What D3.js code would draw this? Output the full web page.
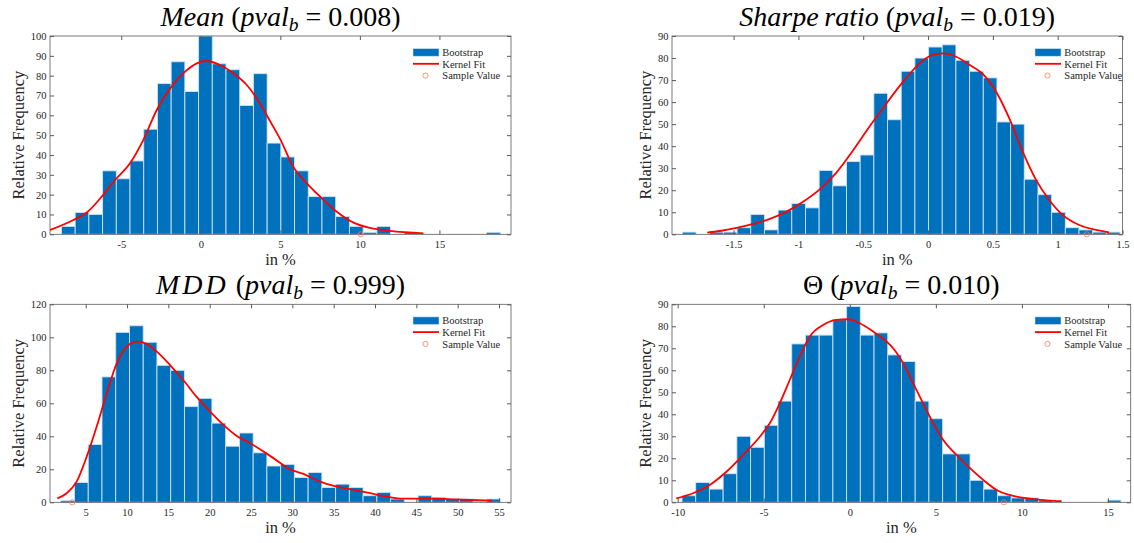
<!DOCTYPE html>
<html>
<head>
<meta charset="utf-8">
<script src="https://cdn.jsdelivr.net/npm/d3@7"></script>
<style>
  body { margin: 0; background: #fff; }
  svg text { font-family: "Liberation Serif", "DejaVu Serif", serif; }
  .tick line { stroke: #5a5a5a; }
</style>
</head>
<body>
<svg width="1134" height="543"></svg>
<script>
const svg = d3.select('svg');
const serif = '"Liberation Serif", "DejaVu Serif", serif';

// bootstrap histograms (first bin edge, bin width, counts per bin)
const meanStart = -8.76, meanWidth = 0.862;
const meanCounts = [4, 11, 10, 32, 28, 37, 53, 76, 87, 72, 100, 86, 83, 65, 81, 46,
  39, 32, 19, 19, 9, 4, 1, 4, 0, 1, 0, 0, 0, 0, 0, 1];

const sharpeStart = -1.895, sharpeWidth = 0.1055;
const sharpeCounts = [1, 0, 1, 1, 3, 9, 2, 11, 14, 12, 29, 22, 33, 36, 64, 52,
  74, 80, 85, 86, 79, 74, 71, 51, 50, 25, 18, 10, 3, 2, 1, 1];

const mddStart = 1.98, mddWidth = 1.6626;
const mddCounts = [1, 12, 35, 76, 103, 107, 97, 83, 80, 58, 63, 48, 34, 42, 30, 22,
  23, 15, 18, 9, 11, 9, 4, 6, 2, 0, 4, 3, 2, 2, 0, 2];

const thetaStart = -9.75, thetaWidth = 0.797;
const thetaCounts = [3, 9, 6, 13, 30, 25, 35, 46, 72, 76, 76, 83, 89, 76, 77, 67,
  64, 46, 38, 22, 22, 10, 6, 3, 2, 2, 1, 0, 0, 0, 0, 1];

// kernel fits [x, frequency]
const meanKernel = [[-9.6, 1.8], [-8.01, 7.2], [-7.17, 11], [-6.23, 19], [-5.39, 27.4], [-4.45, 35.8],
  [-3.61, 47.6], [-2.77, 62.7], [-1.93, 73.6], [-0.99, 82], [-0.25, 86.2], [0.31, 87.4],
  [1.21, 85.4], [2.05, 81.2], [2.89, 75.3], [3.94, 63], [4.36, 57], [4.99, 48], [5.82, 34],
  [6.67, 25.7], [7.5, 19], [8.55, 11.4], [9.6, 5.9], [10.65, 3.2], [11.9, 1.7], [14.0, 0.5]];

const sharpeKernel = [[-1.703, 0.8], [-1.605, 1.5], [-1.477, 2.9], [-1.349, 4.7], [-1.22, 7],
  [-1.092, 10.3], [-0.964, 14.8], [-0.835, 20.4], [-0.707, 28], [-0.579, 38], [-0.45, 49],
  [-0.35, 57], [-0.25, 65], [-0.168, 71], [-0.065, 77.6], [0.037, 81.4], [0.114, 82.1],
  [0.217, 80.6], [0.319, 76.9], [0.422, 72.8], [0.525, 64.7], [0.627, 52.6], [0.73, 37.5],
  [0.833, 24.7], [0.935, 15.6], [1.038, 8.8], [1.166, 4.2], [1.295, 2], [1.397, 0.9]];

const mddKernel = [[1.57, 2.4], [2.7, 5.5], [3.9, 12.5], [5.12, 27.7], [6.33, 45.9], [7.54, 66],
  [8.75, 84.2], [9.96, 94.3], [11.17, 97.4], [12.38, 96], [13.6, 91.3], [15.2, 83.2],
  [16.8, 74.1], [18.4, 64], [20.05, 55], [21.66, 46.9], [23.28, 40.2], [24.9, 35.8],
  [26.9, 29.5], [28.5, 24], [29.33, 21], [31.35, 17.2], [33.37, 12.5], [35.39, 9.5],
  [37.4, 7.5], [39.4, 5.5], [41.44, 3.4], [43.45, 2.2], [45.47, 2.2], [47.49, 2.2],
  [49.5, 1.8], [51.5, 1.4], [54.15, 1]];

const thetaKernel = [[-10.08, 1.8], [-9.11, 4.1], [-8.14, 7.9], [-7.17, 13.9], [-6.2, 21.5],
  [-5.23, 29.8], [-4.65, 35.9], [-4.07, 45], [-3.49, 55.6], [-2.91, 66.2], [-2.33, 75.3],
  [-1.55, 80.6], [-0.78, 82.9], [-0.1, 83.2], [0.58, 81.4], [1.36, 77.6], [1.74, 75.5],
  [2.52, 70], [3.1, 63.2], [3.88, 51], [4.65, 38.9], [5.43, 28.3], [6.2, 21.5], [6.98, 15.5],
  [7.75, 10.2], [8.53, 5.6], [9.49, 2.9], [10.47, 1.7], [11.44, 0.9], [12.31, 0.5]];

// sample values
const meanSample = 10.06, sharpeSample = 1.225, mddSample = 3.38, thetaSample = 8.95;

// axis limits and ticks
const meanXDomain = [-9.48, 19.5], meanYMax = 100;
const meanXTicks = [-5, 0, 5, 10, 15], meanYTicks = d3.range(0, 101, 10);
const sharpeXDomain = [-1.975, 1.5], sharpeYMax = 90;
const sharpeXTicks = [-1.5, -1, -0.5, 0, 0.5, 1, 1.5], sharpeYTicks = d3.range(0, 91, 10);
const mddXDomain = [0.68, 56.45], mddYMax = 120;
const mddXTicks = d3.range(5, 56, 5), mddYTicks = d3.range(0, 121, 20);
const thetaXDomain = [-10.33, 16.32], thetaYMax = 90;
const thetaXTicks = [-10, -5, 0, 5, 10, 15], thetaYTicks = d3.range(0, 91, 10);

// titles: [text, italic, subscript]
const meanTitle = [['Mean', 1], [' (', 0], ['pval', 1], ['b', 1, 1], [' = 0.008)', 0]];
const sharpeTitle = [['Sharpe\u2009ratio', 1], [' (', 0], ['pval', 1], ['b', 1, 1], [' = 0.019)', 0]];
const mddTitle = [['MDD', 1], [' (', 0], ['pval', 1], ['b', 1, 1], [' = 0.999)', 0]];
const thetaTitle = [['\u0398', 0], [' (', 0], ['pval', 1], ['b', 1, 1], [' = 0.010)', 0]];

const legendNames = ['Bootstrap', 'Kernel Fit', 'Sample Value'];

const barColor = '#0072bd';
const barEdge = '#cfe2f2';
const lineColor = '#ff0000';
const sampleColor = '#e8805c';
const axisColor = '#5a5a5a';

const panels = [
  { title: meanTitle, start: meanStart, width: meanWidth, counts: meanCounts, kernel: meanKernel,
    sample: meanSample, xDomain: meanXDomain, yMax: meanYMax, xTicks: meanXTicks, yTicks: meanYTicks,
    left: 50, right: 511, top: 36, bottom: 234.3, yLabelX: 18.3, spacing: 0 },
  { title: sharpeTitle, start: sharpeStart, width: sharpeWidth, counts: sharpeCounts, kernel: sharpeKernel,
    sample: sharpeSample, xDomain: sharpeXDomain, yMax: sharpeYMax, xTicks: sharpeXTicks, yTicks: sharpeYTicks,
    left: 672, right: 1122.5, top: 36, bottom: 234.3, yLabelX: 645, spacing: 0 },
  { title: mddTitle, start: mddStart, width: mddWidth, counts: mddCounts, kernel: mddKernel,
    sample: mddSample, xDomain: mddXDomain, yMax: mddYMax, xTicks: mddXTicks, yTicks: mddYTicks,
    left: 50, right: 511, top: 304.3, bottom: 502.3, yLabelX: 18.3, spacing: 3 },
  { title: thetaTitle, start: thetaStart, width: thetaWidth, counts: thetaCounts, kernel: thetaKernel,
    sample: thetaSample, xDomain: thetaXDomain, yMax: thetaYMax, xTicks: thetaXTicks, yTicks: thetaYTicks,
    left: 672, right: 1130.7, top: 304.3, bottom: 502.3, yLabelX: 645, spacing: 0 }
];

const drawPanel = (p, k) => {
  const x = d3.scaleLinear().domain(p.xDomain).range([p.left, p.right]);
  const y = d3.scaleLinear().domain([0, p.yMax]).range([p.bottom, p.top]);
  const g = svg.append('g').attr('font-family', serif);

  g.append('clipPath').attr('id', 'clip' + k)
    .append('rect')
    .attr('x', p.left).attr('y', p.top)
    .attr('width', p.right - p.left).attr('height', p.bottom - p.top);

  // bars
  const bins = p.counts.map((c, i) => ({ c, x0: p.start + i * p.width, x1: p.start + (i + 1) * p.width }))
    .filter(d => d.c > 0);
  g.append('g').selectAll('rect').data(bins).join('rect')
    .attr('x', d => x(d.x0))
    .attr('width', d => x(d.x1) - x(d.x0))
    .attr('y', d => y(d.c))
    .attr('height', d => y(0) - y(d.c))
    .attr('fill', barColor)
    .attr('stroke', barEdge)
    .attr('stroke-width', 0.9);

  // axes, ticks inward on all four sides
  const bottomAxis = g.append('g')
    .attr('transform', `translate(0,${p.bottom})`)
    .call(d3.axisBottom(x).tickValues(p.xTicks).tickSizeInner(-4).tickSizeOuter(0).tickPadding(6.5)
      .tickFormat(d => String(d)));
  const leftAxis = g.append('g')
    .attr('transform', `translate(${p.left},0)`)
    .call(d3.axisLeft(y).tickValues(p.yTicks).tickSizeInner(-4).tickSizeOuter(0).tickPadding(3.5));
  const topAxis = g.append('g')
    .attr('transform', `translate(0,${p.top})`)
    .call(d3.axisTop(x).tickValues(p.xTicks).tickSizeInner(-4).tickSizeOuter(0).tickFormat(''));
  const rightAxis = g.append('g')
    .attr('transform', `translate(${p.right},0)`)
    .call(d3.axisRight(y).tickValues(p.yTicks).tickSizeInner(-4).tickSizeOuter(0).tickFormat(''));
  [bottomAxis, leftAxis, topAxis, rightAxis].forEach(a => {
    a.select('.domain').remove();
    a.attr('font-family', serif).attr('font-size', 10.5);
    a.selectAll('text').attr('fill', '#262626').attr('font-family', serif);
  });

  g.append('rect')
    .attr('x', p.left).attr('y', p.top)
    .attr('width', p.right - p.left).attr('height', p.bottom - p.top)
    .attr('fill', 'none').attr('stroke', axisColor).attr('stroke-width', 0.8);

  // kernel fit
  g.append('path')
    .datum(p.kernel)
    .attr('clip-path', `url(#clip${k})`)
    .attr('d', d3.line().x(d => x(d[0])).y(d => y(d[1])).curve(d3.curveMonotoneX))
    .attr('fill', 'none')
    .attr('stroke', lineColor)
    .attr('stroke-width', 1.8);

  // sample value
  g.append('circle')
    .attr('cx', x(p.sample)).attr('cy', y(0)).attr('r', 2.6)
    .attr('fill', 'none').attr('stroke', sampleColor).attr('stroke-width', 0.8);

  // legend
  const lx = p.left + 363, ly = p.top;
  g.append('rect')
    .attr('x', lx).attr('y', ly + 12.6).attr('width', 26).attr('height', 7.6)
    .attr('fill', barColor).attr('stroke', barEdge).attr('stroke-width', 0.6);
  g.append('line')
    .attr('x1', lx).attr('x2', lx + 26).attr('y1', ly + 27.8).attr('y2', ly + 27.8)
    .attr('stroke', lineColor).attr('stroke-width', 1.8);
  g.append('circle')
    .attr('cx', lx + 12.5).attr('cy', ly + 39.6).attr('r', 2.6)
    .attr('fill', 'none').attr('stroke', sampleColor).attr('stroke-width', 0.8);
  g.selectAll('.legtext').data(legendNames).join('text')
    .attr('class', 'legtext')
    .attr('x', lx + 29.3)
    .attr('y', (d, i) => ly + 16.4 + i * 11.6)
    .attr('dy', '0.35em')
    .attr('font-size', 10.5)
    .attr('font-family', serif)
    .attr('fill', '#262626')
    .text(d => d);

  // title
  const t = g.append('text')
    .attr('x', (p.left + p.right) / 2)
    .attr('y', p.top - 10)
    .attr('text-anchor', 'middle')
    .attr('font-size', 28)
    .attr('font-family', serif)
    .attr('fill', '#000');
  p.title.forEach((s, i) => {
    const ts = t.append('tspan')
      .attr('font-style', s[1] ? 'italic' : 'normal')
      .text(s[0]);
    if (s[0] === 'MDD') ts.attr('letter-spacing', p.spacing);
    if (s[2]) ts.attr('font-size', 19.5).attr('dy', 5);
    else if (i > 0 && p.title[i - 1][2]) ts.attr('dy', -5);
  });

  // axis labels
  g.append('text')
    .attr('transform', `translate(${p.yLabelX},${(p.top + p.bottom) / 2}) rotate(-90)`)
    .attr('text-anchor', 'middle')
    .attr('dy', '0.35em')
    .attr('font-size', 16.5)
    .attr('font-family', serif)
    .attr('fill', '#262626')
    .text('Relative Frequency');

  g.append('text')
    .attr('x', (p.left + p.right) / 2)
    .attr('y', p.bottom + 31)
    .attr('text-anchor', 'middle')
    .attr('font-size', 16.5)
    .attr('font-family', serif)
    .attr('fill', '#262626')
    .text('in %');
};

panels.forEach(drawPanel);
</script>
</body>
</html>
